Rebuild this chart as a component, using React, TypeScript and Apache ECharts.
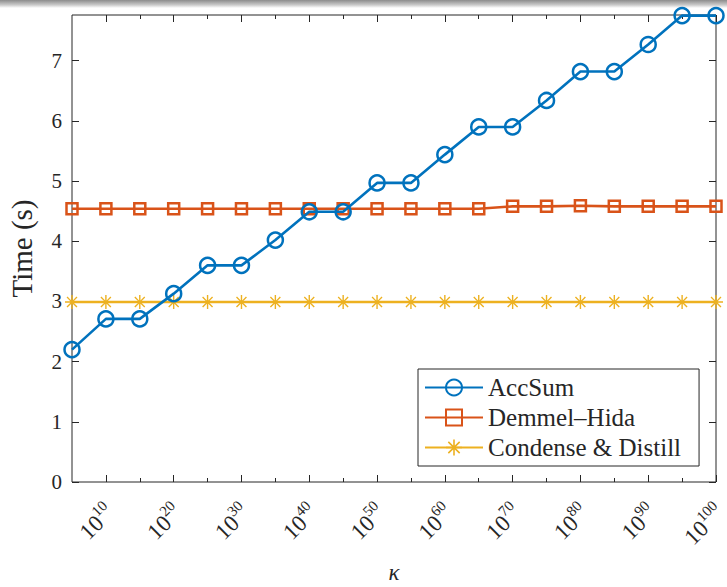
import React, { useEffect, useRef } from "react";
import * as echarts from "echarts";

const exponents = [5, 10, 15, 20, 25, 30, 35, 40, 45, 50, 55, 60, 65, 70, 75, 80, 85, 90, 95, 100];
const accSum = [2.2, 2.71, 2.71, 3.13, 3.6, 3.6, 4.02, 4.49, 4.49, 4.97, 4.97, 5.44, 5.9, 5.9, 6.34, 6.82, 6.82, 7.27, 7.75, 7.75];
const demmelHida = [4.54, 4.54, 4.54, 4.54, 4.54, 4.54, 4.54, 4.54, 4.54, 4.54, 4.54, 4.54, 4.54, 4.58, 4.58, 4.59, 4.58, 4.58, 4.58, 4.58];
const condense = [2.99, 2.99, 2.99, 2.99, 2.99, 2.99, 2.99, 2.99, 2.99, 2.99, 2.99, 2.99, 2.99, 2.99, 2.99, 2.99, 2.99, 2.99, 2.99, 2.99];
const majorTicks = [10, 20, 30, 40, 50, 60, 70, 80, 90, 100];
const minorTicks = [15, 25, 35, 45, 55, 65, 75, 85, 95];
const yTicks = [0, 1, 2, 3, 4, 5, 6, 7];
const seriesNames = ["AccSum", "Demmel\u2013Hida", "Condense & Distill"];

const FONT = "Liberation Serif";
const AX = "#262626";
const STAR =
  "path://M9,0 L11,0 L11,7.6 L16.4,2.2 L17.8,3.6 L12.4,9 L20,9 L20,11 L12.4,11 L17.8,16.4 L16.4,17.8 L11,12.4 L11,20 L9,20 L9,12.4 L3.6,17.8 L2.2,16.4 L7.6,11 L0,11 L0,9 L7.6,9 L2.2,3.6 L3.6,2.2 L9,7.6 Z";

export default function App() {
  const ref = useRef<HTMLDivElement>(null);
  useEffect(() => {
    if (!ref.current) return;
    const chart = echarts.init(ref.current, null, { renderer: "svg" });
    const xMin = exponents[0];
    const xMax = exponents[exponents.length - 1];
    const baseX = {
      type: "value",
      min: xMin,
      max: xMax,
      splitLine: { show: false },
      axisLine: { show: false },
    };
    const mk = (vals: number[]) => vals.map((v, i) => [exponents[i], v]);
    chart.setOption({
      animation: false,
      backgroundColor: "#ffffff",
      graphic: [
        {
          type: "rect",
          shape: { x: 0, y: 0, width: 727, height: 8 },
          style: {
            fill: new echarts.graphic.LinearGradient(0, 0, 0, 1, [
              { offset: 0, color: "#8c8c8c" },
              { offset: 0.6, color: "#c8c8c8" },
              { offset: 1, color: "#ffffff" },
            ]),
          },
          silent: true,
        },
      ],
      grid: {
        left: 72,
        right: 11,
        top: 15,
        bottom: 105,
        containLabel: false,
        outerBoundsMode: "none",
        show: true,
        borderColor: AX,
        borderWidth: 1,
        backgroundColor: "transparent",
      },
      xAxis: [
        {
          ...baseX,
          position: "bottom",
          name: "\u03ba",
          nameLocation: "middle",
          nameGap: 79,
          nameTextStyle: { fontFamily: FONT, fontSize: 23, fontStyle: "italic", color: AX },
          axisTick: { show: true, inside: true, length: 7, customValues: majorTicks, lineStyle: { color: AX } },
          axisLabel: {
            show: true,
            customValues: majorTicks,
            rotate: 45,
            margin: 22,
            padding: [9, 0, 0, 0],
            formatter: (v: number) => `{b|10}{s|${v}}{h| }`,
            rich: {
              b: { fontFamily: FONT, fontSize: 23, color: AX, lineHeight: 22, verticalAlign: "bottom" },
              s: { fontFamily: FONT, fontSize: 15, color: AX, lineHeight: 15, verticalAlign: "top" },
              h: { fontFamily: FONT, fontSize: 1, color: AX, lineHeight: 27, verticalAlign: "middle" },
            },
          },
        },
        {
          ...baseX,
          position: "bottom",
          axisTick: { show: true, inside: true, length: 4, customValues: minorTicks, lineStyle: { color: AX } },
          axisLabel: { show: false },
        },
        {
          ...baseX,
          position: "top",
          axisTick: { show: true, inside: true, length: 7, customValues: majorTicks, lineStyle: { color: AX } },
          axisLabel: { show: false },
        },
        {
          ...baseX,
          position: "top",
          axisTick: { show: true, inside: true, length: 4, customValues: minorTicks, lineStyle: { color: AX } },
          axisLabel: { show: false },
        },
      ],
      yAxis: [
        {
          type: "value",
          position: "left",
          min: 0,
          max: 7.76,
          splitLine: { show: false },
          axisLine: { show: false },
          name: "Time (s)",
          nameLocation: "middle",
          nameGap: 36,
          nameTextStyle: { fontFamily: FONT, fontSize: 29, color: AX },
          axisTick: { show: true, inside: true, length: 7, customValues: yTicks, lineStyle: { color: AX } },
          axisLabel: {
            show: true,
            customValues: yTicks,
            margin: 10,
            fontFamily: FONT,
            fontSize: 21,
            color: AX,
          },
        },
        {
          type: "value",
          position: "right",
          min: 0,
          max: 7.76,
          splitLine: { show: false },
          axisLine: { show: false },
          axisTick: { show: true, inside: true, length: 7, customValues: yTicks, lineStyle: { color: AX } },
          axisLabel: { show: false },
        },
      ],
      legend: {
        orient: "vertical",
        left: 418,
        top: 369,
        padding: [6, 18, 6, 6],
        itemGap: 5,
        itemWidth: 58,
        itemHeight: 20,
        backgroundColor: "#ffffff",
        borderColor: AX,
        borderWidth: 1,
        borderRadius: 0,
        textStyle: { fontFamily: FONT, fontSize: 25, color: AX },
        data: seriesNames,
        selectedMode: false,
      },
      series: [
        {
          name: seriesNames[0],
          type: "line",
          data: mk(accSum),
          symbol: "circle",
          symbolSize: 15,
          clip: false,
          lineStyle: { color: "#0072BD", width: 2.6 },
          itemStyle: { color: "transparent", borderColor: "#0072BD", borderWidth: 2.5 },
          emphasis: { disabled: true },
          silent: true,
          z: 3,
        },
        {
          name: seriesNames[1],
          type: "line",
          data: mk(demmelHida),
          symbol: "rect",
          symbolSize: 11,
          clip: false,
          lineStyle: { color: "#D95319", width: 2.6 },
          itemStyle: { color: "transparent", borderColor: "#D95319", borderWidth: 2.5 },
          emphasis: { disabled: true },
          silent: true,
          z: 2,
        },
        {
          name: seriesNames[2],
          type: "line",
          data: mk(condense),
          symbol: STAR,
          symbolSize: 14,
          clip: false,
          lineStyle: { color: "#EDB120", width: 2.6 },
          itemStyle: { color: "#EDB120", borderWidth: 0 },
          emphasis: { disabled: true },
          silent: true,
          z: 1,
        },
      ],
    });
    return () => chart.dispose();
  }, []);
  return (
    <div
      ref={ref}
      style={{ position: "fixed", left: 0, top: 0, width: 727, height: 587, background: "#fff" }}
    />
  );
}
